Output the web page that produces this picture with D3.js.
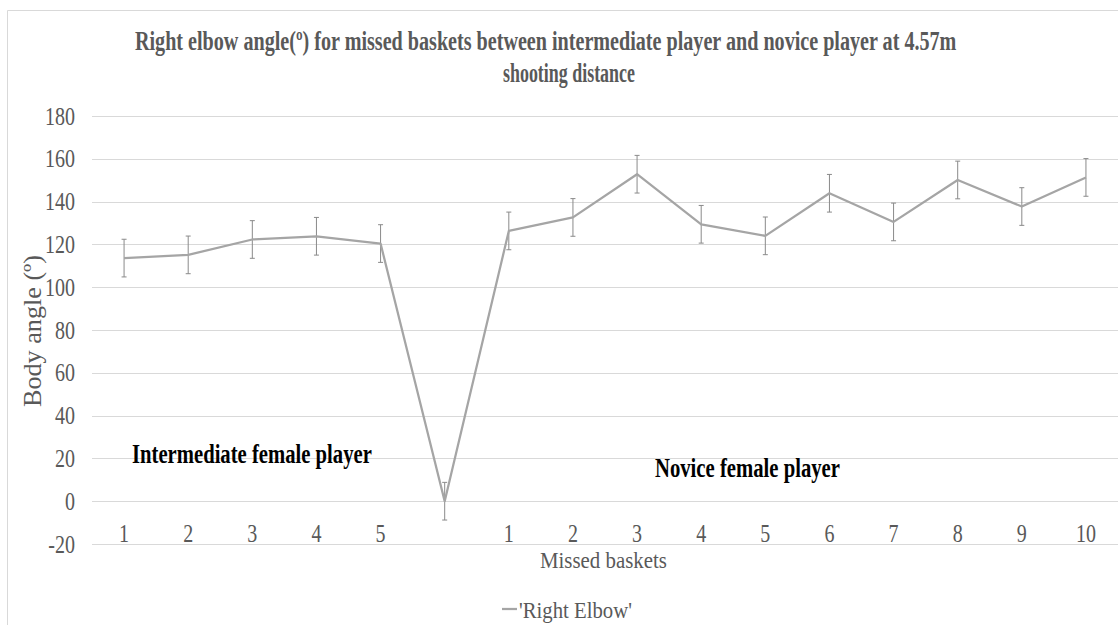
<!DOCTYPE html>
<html>
<head>
  <meta charset="utf-8">
  <title>Right elbow angle</title>
  <script src="https://cdn.jsdelivr.net/npm/d3@7/dist/d3.min.js"></script>
  <style>
    body { margin: 0; background: #fff; }
    text { font-family: "Liberation Serif", "Times New Roman", serif; }
  </style>
</head>
<body>
  <svg width="1118" height="625" id="mainsvg"></svg>
  <script>
    // data
    const categories = ['1', '2', '3', '4', '5', '', '1', '2', '3', '4', '5', '6', '7', '8', '9', '10'];
    const elbowValues = [113.6, 115.1, 122.3, 123.8, 120.4, 0, 126.3, 132.6, 152.8, 129.4, 124.0, 143.9, 130.5, 150.1, 137.7, 151.3];
    const errorValue = 8.8;
    const yTicks = [-20, 0, 20, 40, 60, 80, 100, 120, 140, 160, 180];
    const titleLines = ['Right elbow angle(º) for missed baskets between intermediate player and novice player at 4.57m', 'shooting distance'];
    const seriesName = "'Right Elbow'";

    const svg = d3.select('svg');
    const width = +svg.attr('width');
    const height = +svg.attr('height');
    const margin = { top: 116, right: 0, bottom: 81, left: 92 };

    const data = categories.map((c, i) => ({ i, label: c, value: elbowValues[i] }));

    const x = d3.scaleBand()
      .domain(d3.range(categories.length))
      .range([margin.left, width - margin.right])
      .padding(0);
    const cx = i => x(i) + x.bandwidth() / 2;

    const y = d3.scaleLinear()
      .domain([-20, 180])
      .range([height - margin.bottom, margin.top]);

    // the reference fonts are condensed, so squeeze text to a target width
    const fitText = (sel, px, py, w, rot) => {
      const len = sel.node().getComputedTextLength();
      const k = w / len;
      sel.attr('transform', `translate(${px},${py})${rot ? ' rotate(' + rot + ')' : ''} scale(${k},1)`);
      return sel;
    };

    // chart area border (only top/left visible)
    svg.append('path')
      .attr('d', `M7.5,${height} V10.5 H${width}`)
      .attr('fill', 'none')
      .attr('stroke', '#d9d9d9');

    // gridlines
    svg.append('g')
      .selectAll('line')
      .data(yTicks)
      .join('line')
      .attr('x1', margin.left)
      .attr('x2', width)
      .attr('y1', d => Math.round(y(d)) + 0.5)
      .attr('y2', d => Math.round(y(d)) + 0.5)
      .attr('stroke', '#d9d9d9')
      .attr('stroke-width', 1);

    // y tick labels
    svg.append('g')
      .selectAll('text')
      .data(yTicks)
      .join('text')
      .attr('transform', d => `translate(75,${y(d) + 8.5}) scale(0.8,1)`)
      .attr('text-anchor', 'end')
      .attr('font-size', 25)
      .attr('fill', '#595959')
      .text(d => d);

    // x tick labels
    svg.append('g')
      .selectAll('text')
      .data(data)
      .join('text')
      .attr('transform', d => `translate(${cx(d.i)},542) scale(0.8,1)`)
      .attr('text-anchor', 'middle')
      .attr('font-size', 25)
      .attr('fill', '#595959')
      .text(d => d.label);

    // error bars
    const eb = svg.append('g')
      .attr('stroke', '#8a8a8a')
      .attr('stroke-width', 1);
    eb.selectAll('.bar')
      .data(data)
      .join('line')
      .attr('class', 'bar')
      .attr('x1', d => cx(d.i))
      .attr('x2', d => cx(d.i))
      .attr('y1', d => y(d.value + errorValue))
      .attr('y2', d => y(d.value - errorValue));
    eb.selectAll('.capTop')
      .data(data)
      .join('line')
      .attr('class', 'capTop')
      .attr('x1', d => cx(d.i) - 2.5)
      .attr('x2', d => cx(d.i) + 2.5)
      .attr('y1', d => y(d.value + errorValue))
      .attr('y2', d => y(d.value + errorValue));
    eb.selectAll('.capBot')
      .data(data)
      .join('line')
      .attr('class', 'capBot')
      .attr('x1', d => cx(d.i) - 2.5)
      .attr('x2', d => cx(d.i) + 2.5)
      .attr('y1', d => y(d.value - errorValue))
      .attr('y2', d => y(d.value - errorValue));

    // series line
    const line = d3.line()
      .x(d => cx(d.i))
      .y(d => y(d.value));
    svg.append('path')
      .datum(data)
      .attr('d', line)
      .attr('fill', 'none')
      .attr('stroke', '#a5a5a5')
      .attr('stroke-width', 2.25)
      .attr('stroke-linejoin', 'round');

    // title
    const title = svg.append('g')
      .attr('font-weight', 'bold')
      .attr('font-size', 27)
      .attr('fill', '#595959');
    fitText(title.append('text').text(titleLines[0]), 135, 50, 822);
    fitText(title.append('text').text(titleLines[1]), 503, 82, 132);

    // axis titles
    fitText(svg.append('text')
      .attr('font-size', 25)
      .attr('fill', '#595959')
      .text('Body angle (º)'), 41, 407, 152, -90);

    fitText(svg.append('text')
      .attr('font-size', 23)
      .attr('fill', '#595959')
      .text('Missed baskets'), 540, 568, 127);

    // group annotations
    const notes = svg.append('g')
      .attr('font-weight', 'bold')
      .attr('font-size', 27)
      .attr('fill', '#000');
    fitText(notes.append('text').text('Intermediate female player'), 132, 463, 240);
    fitText(notes.append('text').text('Novice female player'), 655, 477, 185);

    // legend
    svg.append('line')
      .attr('x1', 502).attr('x2', 517)
      .attr('y1', 609).attr('y2', 609)
      .attr('stroke', '#a5a5a5')
      .attr('stroke-width', 2.25);
    fitText(svg.append('text')
      .attr('font-size', 23)
      .attr('fill', '#595959')
      .text(seriesName), 519, 618, 113);
  </script>
</body>
</html>
